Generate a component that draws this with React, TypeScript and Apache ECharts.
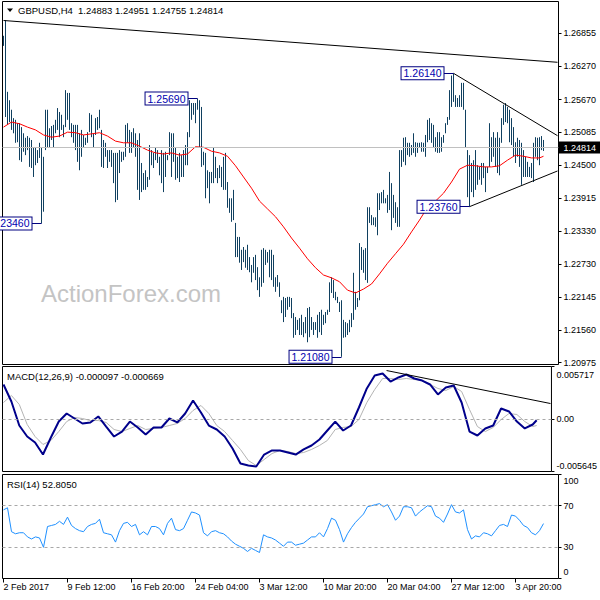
import React, { useEffect, useRef } from "react";
import * as echarts from "echarts";

const FONT = "'Liberation Sans', Arial, sans-serif";

// ---------- data ----------
const slotCount = 278; // bars + empty chart shift on the right
const timeLabels = ["2 Feb 2017", "9 Feb 12:00", "16 Feb 20:00", "24 Feb 04:00", "3 Mar 12:00", "10 Mar 20:00", "20 Mar 04:00", "27 Mar 12:00", "3 Apr 20:00"];
const timeLabelStep = 32;

const highs = [
  1.2681, 1.2709, 1.2581, 1.2566, 1.2549, 1.2534, 1.2531, 1.2525, 1.2525, 1.2518,
  1.2507, 1.2499, 1.2502, 1.2499, 1.2495, 1.2482, 1.2481, 1.2477, 1.2490, 1.2482,
  1.2465, 1.2549, 1.2549, 1.2516, 1.2520, 1.2522, 1.2531, 1.2552, 1.2545, 1.2540,
  1.2522, 1.2584, 1.2579, 1.2579, 1.2525, 1.2522, 1.2522, 1.2522, 1.2507, 1.2513,
  1.2504, 1.2499, 1.2509, 1.2543, 1.2540, 1.2507, 1.2534, 1.2536, 1.2549, 1.2513,
  1.2495, 1.2490, 1.2477, 1.2477, 1.2477, 1.2472, 1.2472, 1.2472, 1.2477, 1.2474,
  1.2474, 1.2522, 1.2525, 1.2513, 1.2509, 1.2516, 1.2507, 1.2495, 1.2507, 1.2454,
  1.2436, 1.2441, 1.2429, 1.2486, 1.2477, 1.2472, 1.2482, 1.2477, 1.2465, 1.2477,
  1.2472, 1.2474, 1.2468, 1.2509, 1.2507, 1.2507, 1.2482, 1.2465, 1.2472, 1.2468,
  1.2477, 1.2486, 1.2509, 1.2566, 1.2561, 1.2561, 1.2561, 1.2569, 1.2566, 1.2554,
  1.2474, 1.2472, 1.2441, 1.2438, 1.2438, 1.2481, 1.2465, 1.2445, 1.2450, 1.2447,
  1.2465, 1.2472, 1.2420, 1.2391, 1.2391, 1.2406, 1.2347, 1.2322, 1.2322, 1.2299,
  1.2304, 1.2299, 1.2308, 1.2286, 1.2272, 1.2286, 1.2290, 1.2268, 1.2250, 1.2299,
  1.2302, 1.2299, 1.2295, 1.2299, 1.2299, 1.2290, 1.2250, 1.2254, 1.2241, 1.2209,
  1.2215, 1.2213, 1.2215, 1.2215, 1.2213, 1.2186, 1.2179, 1.2174, 1.2177, 1.2183,
  1.2170, 1.2179, 1.2195, 1.2197, 1.2179, 1.2170, 1.2170, 1.2183, 1.2188, 1.2192,
  1.2183, 1.2188, 1.2192, 1.2241, 1.2250, 1.2245, 1.2224, 1.2215, 1.2206, 1.2209,
  1.2174, 1.2170, 1.2168, 1.2174, 1.2186, 1.2258, 1.2224, 1.2213, 1.2311, 1.2304,
  1.2299, 1.2302, 1.2375, 1.2375, 1.2361, 1.2357, 1.2357, 1.2400, 1.2400, 1.2402,
  1.2406, 1.2391, 1.2397, 1.2438, 1.2418, 1.2397, 1.2384, 1.2375, 1.2477, 1.2477,
  1.2499, 1.2500, 1.2490, 1.2490, 1.2486, 1.2507, 1.2491, 1.2490, 1.2490, 1.2491,
  1.2490, 1.2504, 1.2531, 1.2534, 1.2525, 1.2522, 1.2500, 1.2509, 1.2509, 1.2500,
  1.2504, 1.2525, 1.2536, 1.2584, 1.2610, 1.2614, 1.2575, 1.2570, 1.2575, 1.2597,
  1.2597, 1.2549, 1.2477, 1.2468, 1.2454, 1.2459, 1.2477, 1.2450, 1.2447, 1.2454,
  1.2454, 1.2447, 1.2447, 1.2525, 1.2500, 1.2509, 1.2499, 1.2509, 1.2499, 1.2534,
  1.2558, 1.2561, 1.2554, 1.2549, 1.2534, 1.2518, 1.2491, 1.2499, 1.2495, 1.2490,
  1.2477, 1.2465, 1.2456, 1.2447, 1.2454, 1.2490, 1.2500, 1.2499, 1.2500, 1.2502,
  1.24951,
];

const lows = [
  1.2663, 1.2536, 1.2522, 1.2527, 1.2513, 1.2507, 1.2490, 1.2491, 1.2459, 1.2456,
  1.2474, 1.2468, 1.2477, 1.2447, 1.2445, 1.2429, 1.2450, 1.2454, 1.2463, 1.2346,
  1.2367, 1.2477, 1.2482, 1.2481, 1.2495, 1.2481, 1.2507, 1.2513, 1.2500, 1.2513,
  1.2500, 1.2518, 1.2531, 1.2513, 1.2500, 1.2490, 1.2477, 1.2456, 1.2441, 1.2465,
  1.2482, 1.2486, 1.2490, 1.2509, 1.2500, 1.2482, 1.2504, 1.2513, 1.2516, 1.2447,
  1.2445, 1.2465, 1.2445, 1.2456, 1.2447, 1.2418, 1.2384, 1.2388, 1.2436, 1.2456,
  1.2459, 1.2465, 1.2490, 1.2472, 1.2472, 1.2482, 1.2465, 1.2406, 1.2388, 1.2402,
  1.2406, 1.2406, 1.2411, 1.2424, 1.2450, 1.2445, 1.2459, 1.2454, 1.2432, 1.2418,
  1.2402, 1.2429, 1.2459, 1.2468, 1.2429, 1.2456, 1.2424, 1.2427, 1.2420, 1.2429,
  1.2429, 1.2450, 1.2450, 1.2500, 1.2531, 1.2540, 1.2525, 1.2549, 1.2482, 1.2447,
  1.2450, 1.2391, 1.2409, 1.2382, 1.2418, 1.2418, 1.2427, 1.2418, 1.2427, 1.2411,
  1.2406, 1.2406, 1.2374, 1.2365, 1.2349, 1.2352, 1.2286, 1.2286, 1.2276, 1.2263,
  1.2277, 1.2267, 1.2263, 1.2259, 1.2241, 1.2258, 1.2245, 1.2227, 1.2215, 1.2233,
  1.2240, 1.2272, 1.2276, 1.2250, 1.2245, 1.2233, 1.2224, 1.2233, 1.2215, 1.2186,
  1.2170, 1.2179, 1.2192, 1.2197, 1.2177, 1.2142, 1.2147, 1.2156, 1.2147, 1.2147,
  1.2143, 1.2150, 1.2134, 1.2143, 1.2156, 1.2147, 1.2156, 1.2142, 1.2152, 1.2147,
  1.2165, 1.2168, 1.2183, 1.2188, 1.2222, 1.2213, 1.2209, 1.2204, 1.2188, 1.2108,
  1.2142, 1.2143, 1.2147, 1.2152, 1.2161, 1.2174, 1.2192, 1.2197, 1.2209, 1.2263,
  1.2258, 1.2245, 1.2240, 1.2347, 1.2343, 1.2343, 1.2340, 1.2325, 1.2370, 1.2382,
  1.2382, 1.2382, 1.2365, 1.2370, 1.2334, 1.2356, 1.2347, 1.2340, 1.2340, 1.2447,
  1.2456, 1.2450, 1.2468, 1.2465, 1.2468, 1.2472, 1.2465, 1.2472, 1.2481, 1.2474,
  1.2474, 1.2465, 1.2491, 1.2495, 1.2490, 1.2482, 1.2474, 1.2472, 1.2472, 1.2474,
  1.2490, 1.2507, 1.2522, 1.2531, 1.2554, 1.2563, 1.2554, 1.2554, 1.2554, 1.2554,
  1.2549, 1.2481, 1.2393, 1.2376, 1.2402, 1.2393, 1.2406, 1.2415, 1.2424, 1.2415,
  1.2427, 1.2402, 1.2436, 1.2447, 1.2456, 1.2465, 1.2447, 1.2436, 1.2432, 1.2490,
  1.2522, 1.2527, 1.2525, 1.2491, 1.2486, 1.2465, 1.2454, 1.2465, 1.2447, 1.2415,
  1.2429, 1.2429, 1.2429, 1.2429, 1.2427, 1.2420, 1.2465, 1.2459, 1.2450, 1.2477,
  1.24755,
];

// moving average, sampled every 4 bars
const maStep = 4;
const maValues = [
  1.2518, 1.2527, 1.2524, 1.2518, 1.2513, 1.2504, 1.2500, 1.2502, 1.2509, 1.2508,
  1.2504, 1.2506, 1.2508, 1.2502, 1.2493, 1.2490, 1.2490, 1.2484, 1.2477, 1.2472,
  1.2470, 1.2472, 1.2468, 1.2470, 1.2483, 1.2482, 1.2475, 1.2472, 1.2466, 1.2449,
  1.2429, 1.2409, 1.2386, 1.2372, 1.2358, 1.2340, 1.2320, 1.2302, 1.2283, 1.2267,
  1.2254, 1.2249, 1.2242, 1.2227, 1.2222, 1.2229, 1.2238, 1.2256, 1.2275, 1.2292,
  1.2309, 1.2331, 1.2352, 1.2375, 1.2386, 1.2400, 1.2420, 1.2443, 1.2450, 1.2449,
  1.2447, 1.2447, 1.2449, 1.2459, 1.2468, 1.2466, 1.2463, 1.2463,
];
const maLast = 1.2466;

// MACD(12,26,9), sampled every 4 bars
const macdStep = 4;
const macdMain = [
  0.00377, 0.00193, -0.00067, -0.00186, -0.00251, -0.00381, -0.00197, -0.00024, 0.00063, 0.00009,
  -0.00045, -0.00034, 0.00031, -0.00078, -0.00186, -0.00132, -0.00024, -0.00088, -0.00164, -0.00088,
  -0.00088, 0.00009, -0.00034, 0.00063, 0.00204, 0.00074, -0.00067, -0.0011, -0.00186, -0.00316,
  -0.00478, -0.005, -0.0051, -0.00381, -0.00337, -0.00337, -0.00359, -0.00381, -0.00326, -0.00283,
  -0.00218, -0.00121, -0.00024, -0.00121, -0.00067, 0.00128, 0.00334, 0.00474, 0.00496, 0.00409,
  0.00453, 0.00485, 0.00442, 0.0042, 0.00377, 0.00269, 0.00344, 0.00366, 0.00182, -0.00132,
  -0.00175, -0.00099, -0.00067, 0.00117, 0.00085, -0.00024, -0.00099, -0.00056,
];
const macdSignal = [
  0.00182, 0.00258, 0.00161, -0.00056, -0.00186, -0.00272, -0.00229, -0.00132, -0.00024, 0.0002,
  0.00009, -0.00013, -0.00013, -0.00034, -0.0011, -0.00132, -0.00099, -0.00067, -0.0011, -0.00099,
  -0.00088, -0.00067, -0.00045, 0.00009, 0.00096, 0.0015, 0.00063, -0.00067, -0.00132, -0.00229,
  -0.00326, -0.00446, -0.005, -0.00435, -0.0037, -0.00337, -0.00348, -0.0037, -0.00359, -0.00326,
  -0.00283, -0.00229, -0.0011, -0.00088, -0.00078, -0.00002, 0.00182, 0.00323, 0.00442, 0.00442,
  0.00431, 0.00442, 0.00431, 0.0042, 0.00377, 0.00334, 0.00312, 0.00355, 0.00301, 0.00106,
  -0.00078, -0.00132, -0.00088, -0.00002, 0.00063, 0.00052, -0.00024, -0.00078,
];
const macdLast = -0.000097;
const signalLast = -0.000669;

// RSI(14), sampled every 2 bars
const rsiStep = 2;
const rsiValues = [
  66, 68, 45, 43, 44, 44, 40, 38, 40, 39,
  30, 50, 51, 52, 55, 52, 59, 51, 48, 46,
  45, 50, 52, 53, 57, 44, 43, 42, 35, 46,
  53, 54, 50, 52, 42, 45, 42, 50, 50, 48,
  42, 53, 58, 47, 46, 48, 56, 64, 63, 61,
  44, 41, 45, 46, 44, 43, 40, 36, 33, 31,
  29, 26, 29, 27, 25, 42, 40, 39, 37, 34,
  31, 35, 35, 32, 33, 34, 37, 40, 40, 44,
  40, 48, 58, 56, 47, 35, 43, 49, 54, 58,
  62, 69, 70, 71, 72, 69, 71, 64, 56, 60,
  69, 69, 68, 60, 64, 67, 70, 69, 60, 58,
  54, 62, 71, 64, 63, 66, 47, 38, 41, 40,
  44, 43, 41, 46, 51, 52, 50, 61, 60, 56,
  51, 49, 44, 42, 46, 52.805,
];

const lastBar = 270;
const currentPrice = 1.24814;
const headerQuote = "1.24883 1.24951 1.24755 1.24814";

const priceTicks = [1.26855, 1.2627, 1.2567, 1.25085, 1.245, 1.23915, 1.2333, 1.2273, 1.22145, 1.2156, 1.20975];
const priceMin = 1.20943;
const priceMax = 1.27422;
const macdTicks = [0.005717, 0, -0.005645];
const rsiTicks = [100, 70, 30, 0];
const rsiLevels = [70, 30];

// price labels with connector (start bar, bar index)
const priceNotes = [
  { value: 1.2346, from: 14, to: 19 },
  { value: 1.2569, from: 92, to: 97 },
  { value: 1.2108, from: 164, to: 169 },
  { value: 1.2614, from: 220, to: 225 },
  { value: 1.2376, from: 228, to: 233 },
];
const trendLines = [
  { from: [0, 1.27083], to: [277, 1.26337] },
  { from: [225, 1.2614], to: [277, 1.25027] },
  { from: [233, 1.2376], to: [277, 1.24397] },
];
const macdTrend = { from: [194, 0.00528], to: [277, 0.00171] };

// ---------- option ----------
function buildOption() {
  const cats = Array.from({ length: slotCount }, (_, i) => String(i));
  const txt = { color: "#000", fontSize: 9, fontFamily: FONT };
  const tickInterval = (i: number) => i % timeLabelStep === 0 && i / timeLabelStep < timeLabels.length;

  const grids = [
    { left: 2.5, top: 1.5, width: 556, height: 363 },
    { left: 2.5, top: 366.5, width: 556, height: 105 },
    { left: 2.5, top: 474.5, width: 556, height: 104 },
  ].map((g) => ({ ...g, show: true, borderColor: "#000", borderWidth: 1, backgroundColor: "transparent" }));

  const xAxis = [0, 1, 2].map((gi) => ({
    type: "category",
    gridIndex: gi,
    data: cats,
    boundaryGap: true,
    show: gi === 2,
    axisLine: { show: false },
    axisTick: { show: true, interval: tickInterval, alignWithLabel: true, length: 4, lineStyle: { color: "#000" } },
    axisLabel: {
      interval: tickInterval,
      formatter: (_v: string, i: number) => timeLabels[i / timeLabelStep] ?? "",
      align: "left",
      margin: 4,
      ...txt,
    },
    splitLine: { show: false },
  }));

  const yBase = {
    type: "value",
    position: "right",
    axisLine: { show: false },
    splitLine: { show: false },
  };
  const yAxis = [
    {
      ...yBase,
      gridIndex: 0,
      min: priceMin,
      max: priceMax,
      axisTick: { show: true, length: 3, customValues: priceTicks, lineStyle: { color: "#000" } },
      axisLabel: { customValues: priceTicks, formatter: (v: number) => v.toFixed(5), margin: 5, ...txt },
    },
    {
      ...yBase,
      gridIndex: 1,
      min: macdTicks[2],
      max: macdTicks[0],
      axisTick: { show: true, length: 3, customValues: macdTicks, lineStyle: { color: "#000" } },
      axisLabel: {
        customValues: macdTicks,
        margin: 5,
        ...txt,
        formatter: (v: number) =>
          v === macdTicks[0] ? `{top|${v}}` : v === macdTicks[2] ? `{bot|${v}}` : "0.00",
        rich: {
          top: { padding: [17, 0, 0, 0], ...txt },
          bot: { padding: [0, 0, 12, 0], ...txt },
        },
      },
    },
    {
      ...yBase,
      gridIndex: 2,
      min: 0,
      max: 100,
      axisTick: { show: true, length: 3, customValues: rsiTicks, lineStyle: { color: "#000" } },
      axisLabel: {
        customValues: rsiTicks,
        margin: 5,
        ...txt,
        formatter: (v: number) => (v === 100 ? `{top|${v}}` : v === 0 ? `{bot|${v}}` : String(v)),
        rich: {
          top: { padding: [13, 0, 0, 0], ...txt },
          bot: { padding: [0, 0, 13, 0], ...txt },
        },
      },
    },
  ];

  const barData = highs.map((h, i) => [i, h, lows[i]]);
  const maData = maValues.map((v, k) => [k * maStep, v]).concat([[lastBar, maLast]]);
  const macdData = macdMain.map((v, k) => [k * macdStep, v]).concat([[lastBar, macdLast]]);
  const signalData = macdSignal.map((v, k) => [k * macdStep, v]).concat([[lastBar, signalLast]]);
  const rsiData = rsiValues.map((v, k) => [k * rsiStep, v]);

  const blackLine = { color: "#000", width: 1, type: "solid" };
  const dashed = { color: "#a8a8a8", width: 1, type: [3, 3] };

  const priceMarks: any[] = [
    {
      yAxis: currentPrice,
      lineStyle: { color: "#c0c0c0", width: 1, type: "solid" },
      label: {
        show: true,
        position: "end",
        distance: 0,
        formatter: currentPrice.toFixed(5),
        color: "#fff",
        backgroundColor: "#000",
        padding: [2, 5, 1, 5],
        fontSize: 9,
        fontFamily: FONT,
      },
    },
    ...trendLines.map((t) => [{ coord: t.from, lineStyle: blackLine, label: { show: false } }, { coord: t.to }]),
    ...priceNotes.map((n) => [
      {
        coord: [n.from, n.value],
        lineStyle: { color: "#000080", width: 1, type: "solid" },
        label: {
          show: true,
          position: "start",
          distance: 0,
          formatter: n.value.toFixed(5),
          color: "#0000b0",
          fontSize: 10.5,
          fontFamily: FONT,
          backgroundColor: "#fff",
          borderColor: "#000080",
          borderWidth: 1,
          padding: [1, 2, 0, 2],
        },
      },
      { coord: [n.to, n.value] },
    ]),
  ];

  return {
    animation: false,
    backgroundColor: "#fff",
    textStyle: { fontFamily: FONT },
    grid: grids,
    xAxis,
    yAxis,
    graphic: [
      {
        type: "text",
        x: 41,
        y: 293,
        z: 0,
        silent: true,
        style: { text: "ActionForex.com", fill: "#c4c4c4", fontSize: 24, fontFamily: FONT, verticalAlign: "middle" },
      },
      { type: "polygon", z: 10, shape: { points: [[7, 8.5], [13, 8.5], [10, 12]] }, style: { fill: "#000" } },
      { type: "text", x: 18, y: 10.5, z: 10, style: { text: "GBPUSD,H4", fill: "#000", fontSize: 9.5, fontFamily: FONT, verticalAlign: "middle" } },
      { type: "text", x: 78, y: 10.5, z: 10, style: { text: headerQuote, fill: "#000", fontSize: 9.5, fontFamily: FONT, verticalAlign: "middle" } },
      {
        type: "text", x: 7, y: 376, z: 10,
        style: { text: `MACD(12,26,9) ${macdLast.toFixed(6)} ${signalLast.toFixed(6)}`, fill: "#000", fontSize: 9.5, fontFamily: FONT, verticalAlign: "middle" },
      },
      {
        type: "text", x: 7, y: 484, z: 10,
        style: { text: `RSI(14) ${rsiValues[rsiValues.length - 1].toFixed(4)}`, fill: "#000", fontSize: 9.5, fontFamily: FONT, verticalAlign: "middle" },
      },
    ],
    series: [
      {
        type: "custom",
        xAxisIndex: 0,
        yAxisIndex: 0,
        z: 2,
        silent: true,
        data: barData,
        encode: { x: 0, y: [1, 2] },
        renderItem: (_p: any, api: any) => {
          const top = api.coord([api.value(0), api.value(1)]);
          const bot = api.coord([api.value(0), api.value(2)]);
          const x = Math.floor(top[0]) + 0.5;
          return {
            type: "line",
            shape: { x1: x, y1: top[1], x2: x, y2: Math.max(bot[1], top[1] + 1) },
            style: { stroke: "#104060", lineWidth: 1 },
          };
        },
      },
      {
        type: "line",
        xAxisIndex: 0,
        yAxisIndex: 0,
        z: 3,
        silent: true,
        data: maData,
        symbol: "none",
        lineStyle: { color: "#ff0000", width: 1 },
        markLine: { silent: true, precision: 5, symbol: ["none", "none"], data: priceMarks },
      },
      {
        type: "line",
        xAxisIndex: 1,
        yAxisIndex: 1,
        z: 2,
        silent: true,
        data: signalData,
        symbol: "none",
        lineStyle: { color: "#b4b4b4", width: 1 },
      },
      {
        type: "line",
        xAxisIndex: 1,
        yAxisIndex: 1,
        z: 3,
        silent: true,
        data: macdData,
        symbol: "none",
        lineStyle: { color: "#00008b", width: 2 },
        markLine: {
          silent: true,
          precision: 6,
          symbol: ["none", "none"],
          data: [
            { yAxis: 0, lineStyle: dashed, label: { show: false } },
            [{ coord: macdTrend.from, lineStyle: blackLine, label: { show: false } }, { coord: macdTrend.to }],
          ],
        },
      },
      {
        type: "line",
        xAxisIndex: 2,
        yAxisIndex: 2,
        z: 3,
        silent: true,
        data: rsiData,
        symbol: "none",
        lineStyle: { color: "#1e90ff", width: 1 },
        markLine: {
          silent: true,
          symbol: ["none", "none"],
          data: rsiLevels.map((l) => ({ yAxis: l, lineStyle: dashed, label: { show: false } })),
        },
      },
    ],
  };
}

export default function App() {
  const ref = useRef<HTMLDivElement>(null);
  useEffect(() => {
    if (!ref.current) return;
    const chart = echarts.init(ref.current, null, { renderer: "svg" });
    chart.setOption(buildOption() as any);
    return () => chart.dispose();
  }, []);
  return (
    <div
      ref={ref}
      style={{ position: "fixed", left: 0, top: 0, width: 600, height: 600, background: "#fff" }}
    />
  );
}
